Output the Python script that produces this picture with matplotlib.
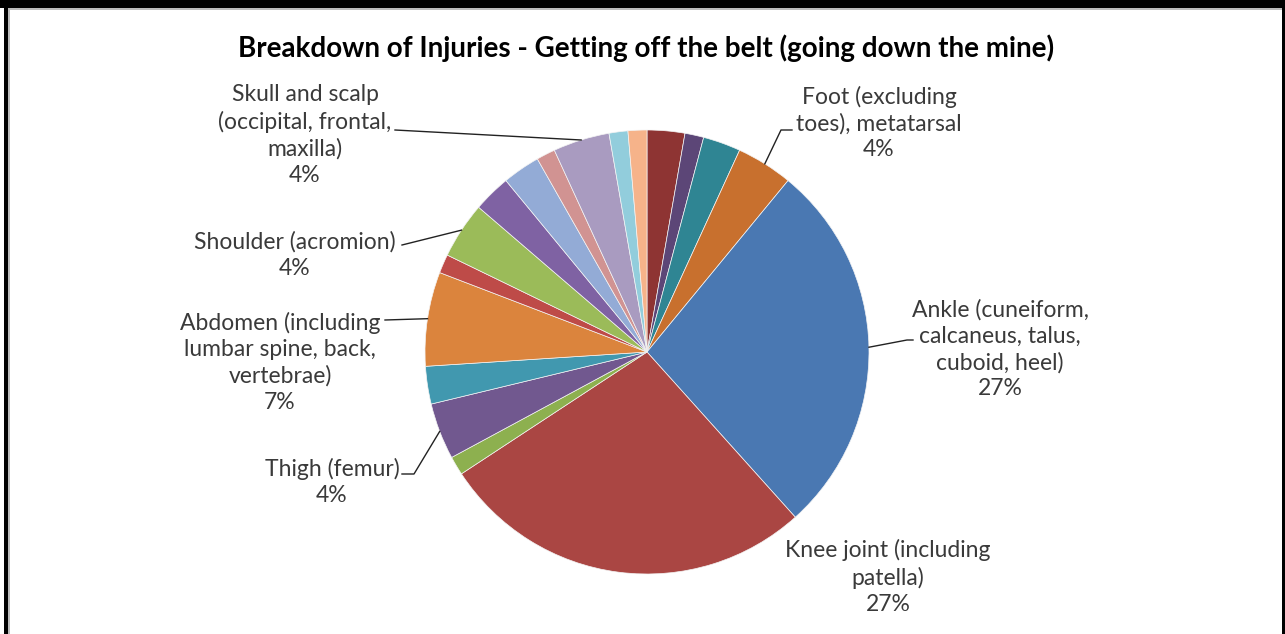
import numpy as np
import matplotlib

matplotlib.use("Agg")
import matplotlib.pyplot as plt
from matplotlib.lines import Line2D
from matplotlib.patches import Rectangle

# slices, clockwise from 12 o'clock (injury counts)
categories = [
    "Other 1", "Other 2", "Other 3",
    "Foot (excluding\ntoes), metatarsal",
    "Ankle (cuneiform,\ncalcaneus, talus,\ncuboid, heel)",
    "Knee joint (including\npatella)",
    "Other 4",
    "Thigh (femur)",
    "Other 5",
    "Abdomen (including\nlumbar spine, back,\nvertebrae)",
    "Other 6",
    "Shoulder (acromion)",
    "Other 7", "Other 8", "Other 9",
    "Skull and scalp\n(occipital, frontal,\nmaxilla)",
    "Other 10", "Other 11",
]
counts = [2, 1, 2, 3, 20, 20, 1, 3, 2, 5, 1, 3, 2, 2, 1, 3, 1, 1]
colors = [
    "#8E3433", "#5C4677", "#2F8593", "#C8702E", "#4A78B2", "#AA4643",
    "#8DB04F", "#71588F", "#4198AF", "#DB843D", "#BE4B48", "#9BBB59",
    "#7F62A3", "#93ABD6", "#D19392", "#A99BC0", "#92CDDC", "#F6B38A",
]

W, H = 1285, 634

# label layout in pixels: slice index -> (text centre, leader polyline start points)
label_layout = {
    3: ((879, 123), [(792, 130), (781, 130)]),
    4: ((1000, 349), [(913, 340), (907, 340)]),
    5: ((888, 577), None),
    7: ((332, 482), [(402, 474), (414, 474)]),
    9: ((280, 362), [(385, 320)]),
    11: ((295, 255), [(402, 245)]),
    15: ((305, 135), [(395, 130)]),
}


def fpos(x, y):
    return x / W, 1 - y / H


fig = plt.figure(figsize=(W / 100, H / 100), dpi=100)
fig.patch.set_facecolor("white")

cx, cy, r = 647, 352, 222
ax = fig.add_axes([(cx - r) / W, 1 - (cy + r) / H, 2 * r / W, 2 * r / H])
wedges, _ = ax.pie(
    counts,
    colors=colors,
    startangle=90,
    counterclock=False,
    wedgeprops={"edgecolor": "#f4f4f4", "linewidth": 0.5},
)
ax.set_xlim(-1, 1)
ax.set_ylim(-1, 1)
ax.set_aspect("equal")
ax.axis("off")

total = sum(counts)
label_font = ["Lato", "DejaVu Sans"]
for idx, ((tx, ty), leader) in label_layout.items():
    pct = round(100 * counts[idx] / total)
    fig.text(*fpos(tx, ty), f"{categories[idx]}\n{pct}%", ha="center", va="center",
             multialignment="center", fontsize=16.5, color="#3a3a3a",
             family=label_font, linespacing=1.3)
    if leader:
        w = wedges[idx]
        mid = np.deg2rad((w.theta1 + w.theta2) / 2)
        edge = ax.transData.transform((np.cos(mid), np.sin(mid)))
        xs = [p[0] for p in leader] + [edge[0]]
        ys = [p[1] for p in leader] + [H - edge[1]]
        fx = [x / W for x in xs]
        fy = [1 - y / H for y in ys]
        fig.add_artist(Line2D(fx, fy, color="#222222", linewidth=1.0,
                              transform=fig.transFigure))

fig.text(*fpos(646, 48), "Breakdown of Injuries - Getting off the belt (going down the mine)",
         ha="center", va="center", fontsize=20, fontweight="bold",
         family=label_font, color="black")

# frame like the original screenshot
for x, y, w, h, c in [
    (0, 0, W, 8, "black"), (4, 0, 4, H, "black"), (W - 3, 0, 3, H, "black"),
    (8, 8, W - 11, 1.5, "#bbbbbb"), (8, 8, 1.5, H - 8, "#bbbbbb"),
]:
    fig.add_artist(Rectangle((x / W, 1 - (y + h) / H), w / W, h / H,
                             transform=fig.transFigure, facecolor=c,
                             edgecolor="none"))

fig.savefig("out.png", dpi=100)
